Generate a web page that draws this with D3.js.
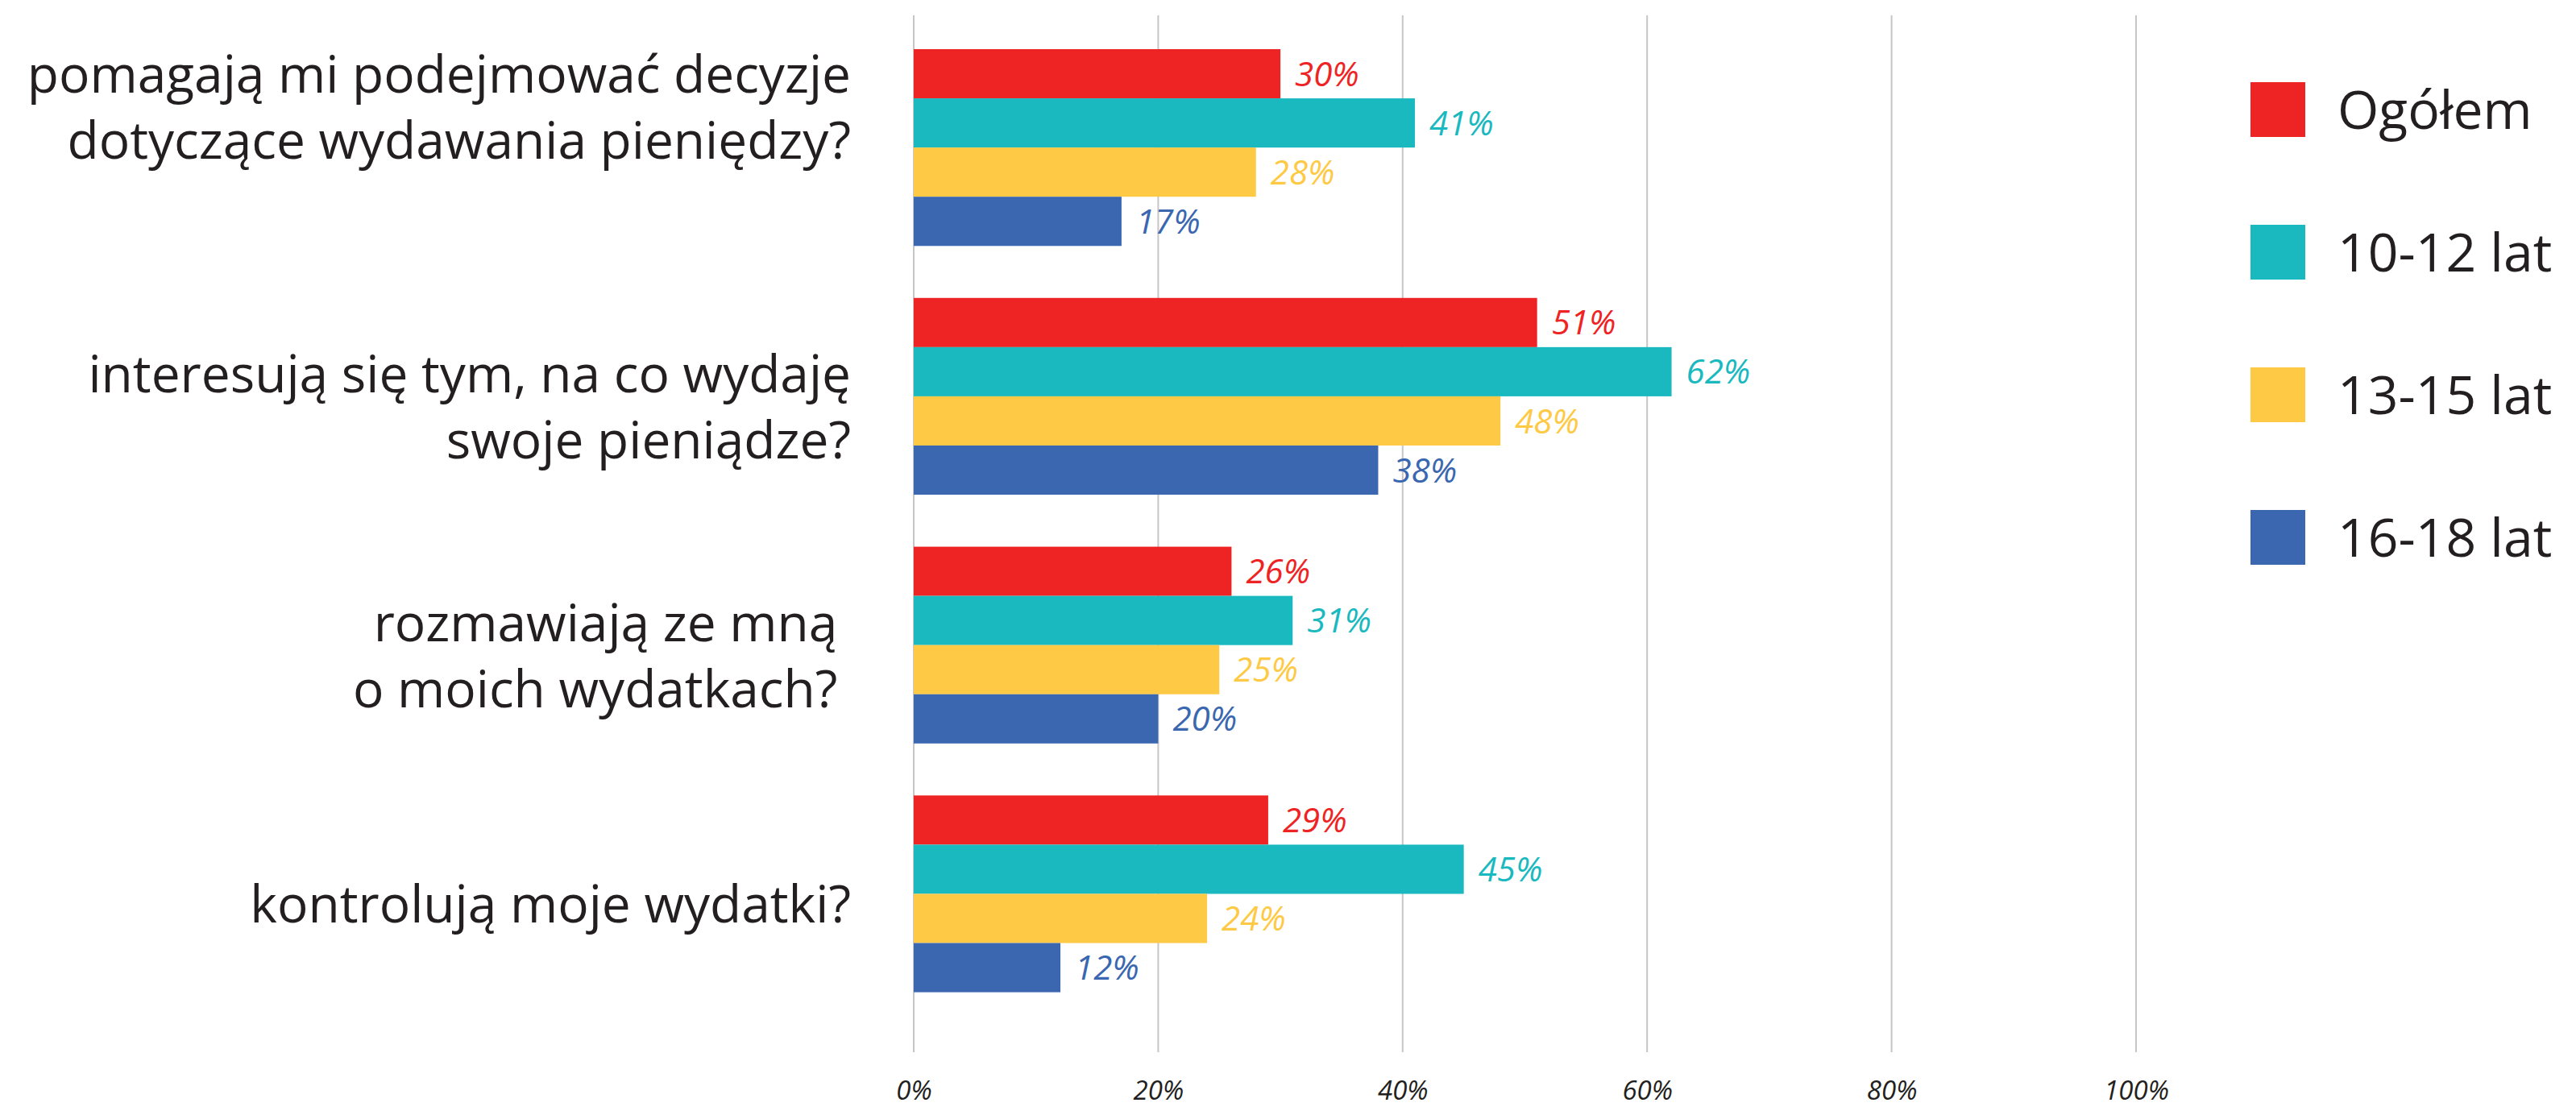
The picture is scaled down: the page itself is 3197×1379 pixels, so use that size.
<!DOCTYPE html>
<html>
<head>
<meta charset="utf-8">
<script src="https://cdn.jsdelivr.net/npm/d3@7"></script>
<style>
body{margin:0;background:#fff;}
svg{display:block;}
</style>
</head>
<body>
<svg id="chart" width="3197" height="1379"></svg>
<script>
// dane
var categories = [
	"pomagają mi podejmować decyzje\ndotyczące wydawania pieniędzy?",
	"interesują się tym, na co wydaję\nswoje pieniądze?",
	"rozmawiają ze mną\u00a0\no moich wydatkach?\u00a0",
	"kontrolują moje wydatki?"
];
var seriesNames = ["Ogółem", "10-12 lat", "13-15 lat", "16-18 lat"];
var ogolem   = [30, 51, 26, 29];
var lat10_12 = [41, 62, 31, 45];
var lat13_15 = [28, 48, 25, 24];
var lat16_18 = [17, 38, 20, 12];
var tickValues = [0, 20, 40, 60, 80, 100];
var colors = ["#ee2424", "#19b9bf", "#fec944", "#3a67b0"];

var series = [ogolem, lat10_12, lat13_15, lat16_18];

var svg = d3.select("#chart");
var fontMain = "'Open Sans', 'Noto Sans', sans-serif";

var x = d3.scaleLinear().domain([0, 100]).range([1134, 2651]);
var y0 = d3.scaleBand().domain(d3.range(categories.length)).range([28.6, 1264]).paddingInner(0.209).paddingOuter(0.105);
var y1 = d3.scaleBand().domain(d3.range(seriesNames.length)).range([0, y0.bandwidth()]);

// siatka
svg.append("g").selectAll("line")
	.data(tickValues)
	.enter().append("line")
	.attr("x1", function(d){ return x(d); })
	.attr("x2", function(d){ return x(d); })
	.attr("y1", 19)
	.attr("y2", 1306)
	.attr("stroke", "#c6c6c6")
	.attr("stroke-width", 2);

// opisy osi
var xAxis = d3.axisBottom(x).tickValues(tickValues).tickSize(0).tickPadding(0)
	.tickFormat(function(d){ return d + "%"; });
var ax = svg.append("g").attr("transform", "translate(0,1342)").call(xAxis);
ax.select(".domain").remove();
ax.selectAll("text")
	.attr("font-family", fontMain)
	.attr("font-style", "italic")
	.attr("font-size", 33)
	.attr("fill", "#231f20");

// słupki
var groups = svg.append("g").selectAll("g")
	.data(categories)
	.enter().append("g")
	.attr("transform", function(d, i){ return "translate(0," + y0(i) + ")"; });

groups.selectAll("rect")
	.data(function(d, i){ return series.map(function(s, k){ return {k: k, v: s[i]}; }); })
	.enter().append("rect")
	.attr("x", x(0))
	.attr("y", function(d){ return y1(d.k); })
	.attr("width", function(d){ return x(d.v) - x(0); })
	.attr("height", y1.bandwidth())
	.attr("fill", function(d){ return colors[d.k]; });

groups.selectAll("text.val")
	.data(function(d, i){ return series.map(function(s, k){ return {k: k, v: s[i]}; }); })
	.enter().append("text")
	.attr("class", "val")
	.attr("x", function(d){ return x(d.v) + 18; })
	.attr("y", function(d){ return y1(d.k) + y1.bandwidth() / 2; })
	.attr("dy", "0.36em")
	.attr("font-family", fontMain)
	.attr("font-style", "italic")
	.attr("font-size", 42)
	.attr("fill", function(d){ return colors[d.k]; })
	.text(function(d){ return d.v + "%"; });

// etykiety kategorii
var lineH = 82;
svg.append("g").selectAll("text")
	.data(categories)
	.enter().append("text")
	.attr("text-anchor", "end")
	.attr("font-family", fontMain)
	.attr("font-size", 64)
	.attr("fill", "#231f20")
	.attr("xml:space", "preserve")
	.each(function(d, i){
		var lines = d.split("\n");
		var c = y0(i) + y0.bandwidth() / 2;
		var shift = i === 0 ? -43 : 20; // pierwsza etykieta wyżej
		var top = c - (lines.length - 1) * lineH / 2 + 16 + shift;
		var t = d3.select(this);
		lines.forEach(function(l, j){
			t.append("tspan").attr("x", 1056).attr("y", top + j * lineH).text(l);
		});
	});

// legenda
var leg = svg.append("g").selectAll("g")
	.data(seriesNames)
	.enter().append("g")
	.attr("transform", function(d, i){ return "translate(2793," + (102 + i * 177) + ")"; });
leg.append("rect")
	.attr("width", 68)
	.attr("height", 68)
	.attr("fill", function(d, i){ return colors[i]; });
leg.append("text")
	.attr("x", 108)
	.attr("y", 34)
	.attr("dy", "0.36em")
	.attr("font-family", fontMain)
	.attr("font-size", 66)
	.attr("fill", "#231f20")
	.text(function(d){ return d; });
</script>
</body>
</html>
